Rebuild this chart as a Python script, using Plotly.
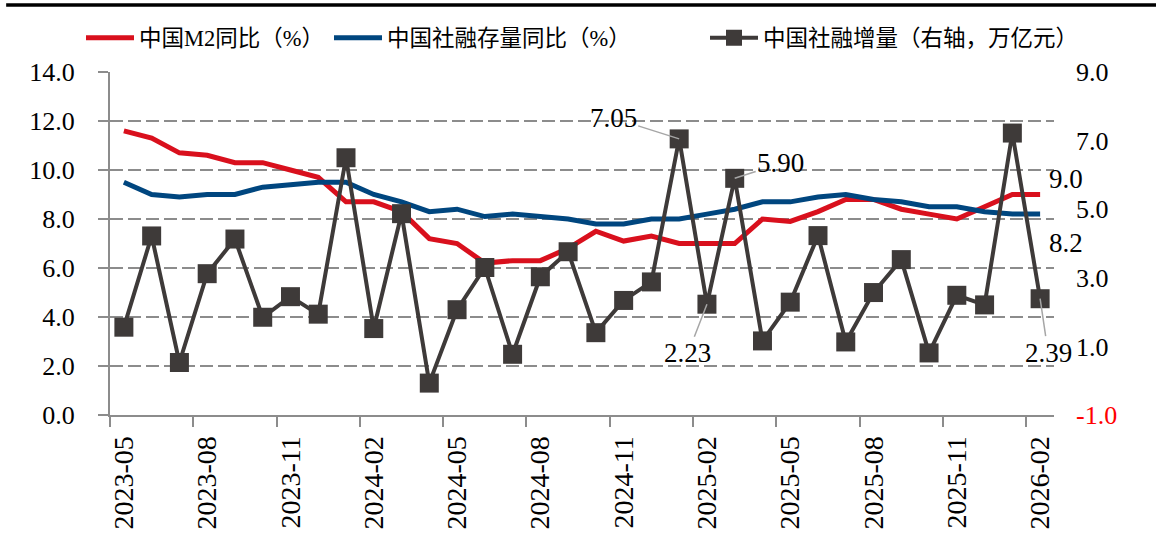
import plotly.graph_objects as go
import pandas as pd

months = [d.strftime("%Y-%m") for d in pd.date_range("2023-05-01", "2026-02-01", freq="MS")]

m2_yoy = [11.6, 11.3, 10.7, 10.6, 10.3, 10.3, 10.0, 9.7, 8.7, 8.7, 8.3, 7.2,
          7.0, 6.2, 6.3, 6.3, 6.8, 7.5, 7.1, 7.3, 7.0, 7.0, 7.0, 8.0,
          7.9, 8.3, 8.8, 8.8, 8.4, 8.2, 8.0, 8.5, 9.0, 9.0]
tsf_stock_yoy = [9.5, 9.0, 8.9, 9.0, 9.0, 9.3, 9.4, 9.5, 9.5, 9.0, 8.7, 8.3,
                 8.4, 8.1, 8.2, 8.1, 8.0, 7.8, 7.8, 8.0, 8.0, 8.2, 8.4, 8.7,
                 8.7, 8.9, 9.0, 8.8, 8.7, 8.5, 8.5, 8.3, 8.2, 8.2]
tsf_flow = [1.56, 4.22, 0.53, 3.12, 4.13, 1.85, 2.45, 1.94, 6.50, 1.52, 4.87, -0.07,
            2.07, 3.30, 0.77, 3.03, 3.76, 1.40, 2.34, 2.88, 7.05, 2.23, 5.90, 1.16,
            2.29, 4.23, 1.13, 2.57, 3.53, 0.81, 2.49, 2.21, 7.22, 2.39]

left_ticks = [0, 2, 4, 6, 8, 10, 12, 14]
right_ticks = [-1, 1, 3, 5, 7, 9]

names = ["中国M2同比（%）", "中国社融存量同比（%）", "中国社融增量（右轴，万亿元）"]

RED = "#d9101d"
BLUE = "#00467f"
DARK = "#3e3a39"
GRID = "#8c8c8c"
FONT = "Liberation Serif, Times New Roman, Noto Sans CJK SC, serif"

W, H = 1156, 545

x = list(range(len(months)))

fig = go.Figure()
fig.add_trace(go.Scatter(x=x, y=m2_yoy, name=names[0], mode="lines", legend="legend",
                         line=dict(color=RED, width=5)))
fig.add_trace(go.Scatter(x=x, y=tsf_stock_yoy, name=names[1], mode="lines", legend="legend2",
                         line=dict(color=BLUE, width=5)))
fig.add_trace(go.Scatter(x=x, y=tsf_flow, name=names[2], mode="lines+markers", yaxis="y2",
                         legend="legend3",
                         line=dict(color=DARK, width=4),
                         marker=dict(symbol="square", size=19, color=DARK)))

label_idx = list(range(0, len(months), 3))

def leg(xpage):
    return dict(orientation="h", xref="container", yref="container",
                x=xpage / W, xanchor="left", y=1 - 38 / H, yanchor="middle",
                font=dict(size=22.5, family=FONT), itemwidth=48,
                bgcolor="rgba(0,0,0,0)", borderwidth=0)

fig.update_layout(
    template="none",
    width=W, height=H,
    margin=dict(l=110, r=1156 - 1054, t=72, b=545 - 415, autoexpand=False),
    paper_bgcolor="white", plot_bgcolor="white",
    font=dict(family=FONT, size=26, color="black"),
    showlegend=True,
    legend=leg(81), legend2=leg(329), legend3=leg(705),
    xaxis=dict(range=[-0.5, len(months) - 0.5], tickmode="array",
               tickvals=label_idx, ticktext=[months[i] for i in label_idx],
               tickangle=-90, ticks="", ticklabelstandoff=8, automargin=False,
               tickfont=dict(size=28, family=FONT),
               showgrid=False, zeroline=False,
               showline=True, linecolor=GRID, linewidth=2,
               minor=dict(tickmode="array", tickvals=[i - 0.5 for i in label_idx],
                          ticks="outside", ticklen=10, tickcolor=GRID, tickwidth=2,
                          showgrid=False)),
    yaxis=dict(range=[0, 14], tickmode="array", tickvals=left_ticks,
               ticktext=[f"{v:.1f}" for v in left_ticks], automargin=False,
               ticks="outside", ticklen=10, tickcolor=GRID, tickwidth=2,
               ticklabelstandoff=18,
               showgrid=True, gridcolor=GRID, gridwidth=2, griddash="13px,5px",
               showline=True, linecolor=GRID, linewidth=2, zeroline=False,
               tickfont=dict(size=26, family=FONT)),
    yaxis2=dict(range=[-1, 9], overlaying="y", side="right", tickmode="array",
                tickvals=right_ticks, automargin=False,
                ticktext=[("<span style='color:#ff0000'>%.1f</span>" % v) if v < 0 else "%.1f" % v
                          for v in right_ticks],
                ticks="", ticklabelstandoff=21, showgrid=False, zeroline=False,
                showline=False, tickfont=dict(size=26, family=FONT)),
)

# top rule across the page
rule_y = 1 + (72 - 5) / 343
fig.add_shape(type="line", xref="paper", yref="paper", x0=-0.11, x1=1.11,
              y0=rule_y, y1=rule_y, line=dict(color="black", width=3.5))

ann_font = dict(size=27, family=FONT, color="black")
callouts = [(20, -66, -21), (22, 46, -15), (21, -19, 49), (33, 8, 54)]
for i, ax, ay in callouts:
    fig.add_annotation(x=i, y=tsf_flow[i], xref="x", yref="y2",
                       text=f"{tsf_flow[i]:.2f}", showarrow=True, arrowhead=0,
                       arrowcolor="#a6a6a6", arrowwidth=1.5, ax=ax, ay=ay,
                       standoff=0, font=ann_font)

last = len(months) - 1
fig.add_annotation(x=last, y=m2_yoy[last], xref="x", yref="y", text=f"{m2_yoy[last]:.1f}",
                   showarrow=False, xshift=26, yshift=16, font=ann_font)
fig.add_annotation(x=last, y=tsf_stock_yoy[last], xref="x", yref="y",
                   text=f"{tsf_stock_yoy[last]:.1f}",
                   showarrow=False, xshift=26, yshift=-29, font=ann_font)

fig.write_html("out.html",
               config={"displayModeBar": False},
               post_script="document.body.style.margin='0px';"
                           "document.body.style.overflow='hidden';")
